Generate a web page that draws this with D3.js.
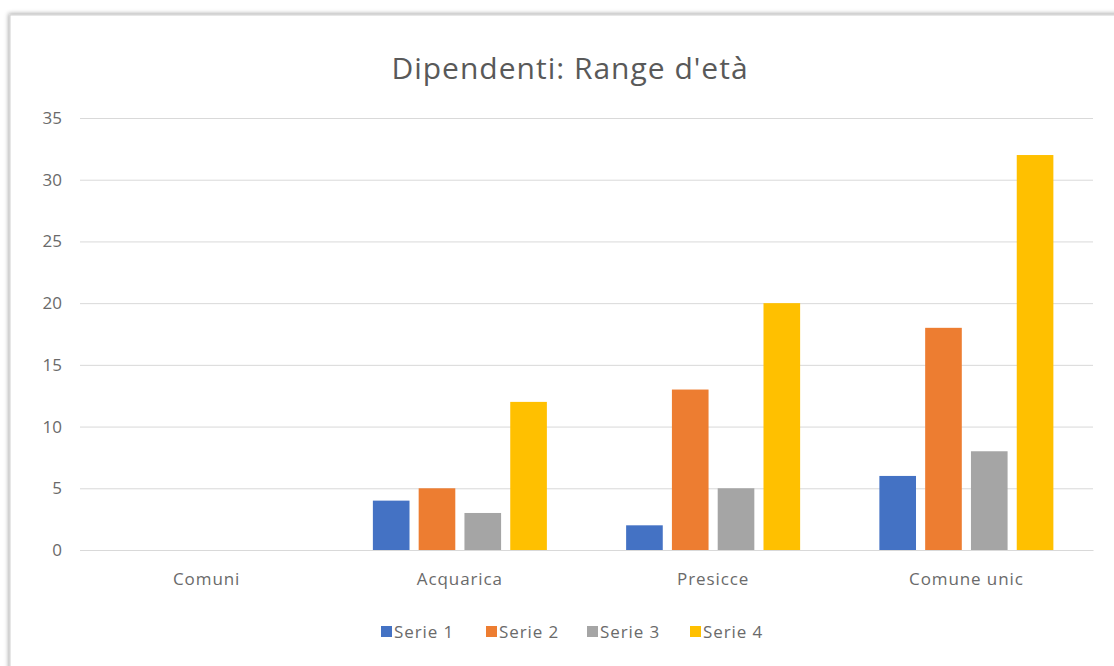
<!DOCTYPE html>
<html><head><meta charset="utf-8">
<script src="https://cdn.jsdelivr.net/npm/d3@7"></script>
<style>
body{margin:0;background:#fff;}
svg{display:block;font-family:"Open Sans", sans-serif;}
</style></head>
<body>
<svg id="c" width="1114" height="666"></svg>
<script>
const categories = ["Comuni", "Acquarica", "Presicce", "Comune unic"];
const seriesNames = ["Serie 1", "Serie 2", "Serie 3", "Serie 4"];
const serie1 = [null, 4, 2, 6];
const serie2 = [null, 5, 13, 18];
const serie3 = [null, 3, 5, 8];
const serie4 = [null, 12, 20, 32];
const yTicks = [0, 5, 10, 15, 20, 25, 30, 35];
const colors = ["#4472c4", "#ed7d31", "#a5a5a5", "#ffc000"];
const title = "Dipendenti: Range d'età";

const series = [serie1, serie2, serie3, serie4];
const svg = d3.select("#c");

// chart frame with soft shadow
const defs = svg.append("defs");
const f = defs.append("filter").attr("id","sh").attr("x","-5%").attr("y","-5%").attr("width","110%").attr("height","110%");
f.append("feDropShadow").attr("dx",-1).attr("dy",-1).attr("stdDeviation",2).attr("flood-color","#000").attr("flood-opacity",0.35);
svg.append("rect").attr("x",10).attr("y",15).attr("width",1130).attr("height",700)
  .attr("fill","#fff").attr("stroke","#d0d0d0").attr("stroke-width",1).attr("filter","url(#sh)");

const m = {left:80, right:1093, top:118, bottom:550};
const x = d3.scaleBand().domain(categories).range([m.left, m.right]);
const y = d3.scaleLinear().domain([0, 35]).range([m.bottom, m.top]);
const groupW = 174;
const x1 = d3.scaleBand().domain(seriesNames).range([0, groupW]).paddingInner(0.2);

const textCol = "#6a6a6a";

// gridlines
const yAxis = d3.axisLeft(y).tickValues(yTicks).tickSize(-(m.right - m.left)).tickPadding(18);
const ga = svg.append("g").attr("transform", `translate(${m.left},0)`).call(yAxis);
ga.select(".domain").remove();
ga.selectAll(".tick line").attr("stroke","#d9d9d9").attr("stroke-width",1);
ga.selectAll(".tick text").attr("fill",textCol).attr("font-size",17).attr("font-family","Open Sans").attr("dx",0);

// bars
categories.forEach((c, i) => {
  const gx = x(c) + (x.bandwidth() - groupW) / 2;
  series.forEach((s, j) => {
    const v = s[i];
    if (v == null) return;
    svg.append("rect")
      .attr("x", gx + x1(seriesNames[j]))
      .attr("y", y(v))
      .attr("width", x1.bandwidth())
      .attr("height", y(0) - y(v))
      .attr("fill", colors[j]);
  });
});

// x axis
const xAxis = d3.axisBottom(x).tickSize(0).tickPadding(23);
const gx = svg.append("g").attr("transform", `translate(0,${m.bottom})`).call(xAxis);
gx.select(".domain").attr("stroke","#d9d9d9");
gx.selectAll(".tick text").attr("fill",textCol).attr("font-size",17).attr("font-family","Open Sans").attr("letter-spacing","0.9px");

// title
svg.append("text").attr("x", 570).attr("y", 79).attr("text-anchor","middle")
  .attr("font-size",30).attr("letter-spacing","1px").attr("fill","#595959").text(title);

// legend
const legX = [381, 486, 587, 690];
const lg = svg.append("g");
seriesNames.forEach((n, j) => {
  lg.append("rect").attr("x", legX[j]).attr("y", 626).attr("width",11).attr("height",11).attr("fill",colors[j]);
  lg.append("text").attr("x", legX[j] + 13).attr("y", 638).attr("font-size",17).attr("letter-spacing","0.9px").attr("fill",textCol).text(n);
});
</script>
</body></html>
